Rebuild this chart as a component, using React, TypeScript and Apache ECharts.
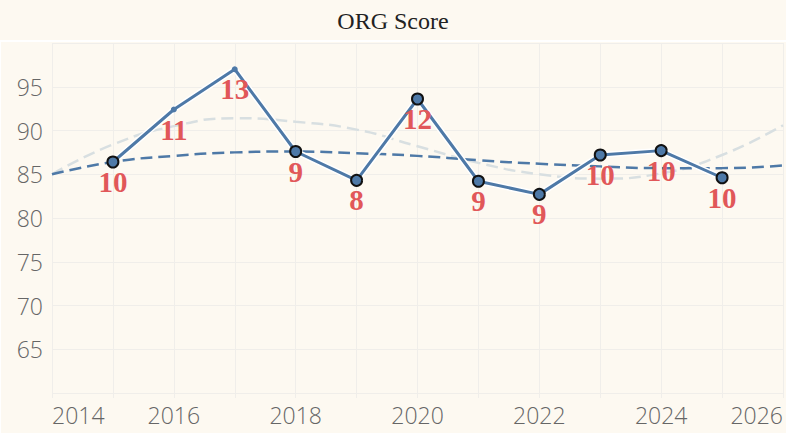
import React, { useEffect, useRef } from "react";
import * as echarts from "echarts";

const years = [2015, 2016, 2017, 2018, 2019, 2020, 2021, 2022, 2023, 2024, 2025];
const scores = [86.4, 92.4, 97.0, 87.6, 84.3, 93.6, 84.2, 82.7, 87.2, 87.7, 84.6];
const counts = [10, 11, 13, 9, 8, 12, 9, 9, 10, 10, 10];
const smallDotYears = [2016, 2017];

const trendYears = [2014, 2015, 2016, 2017, 2018, 2019, 2020, 2021, 2022, 2023, 2024, 2025, 2026];
const trendLinear = [85.0, 86.4, 87.1, 87.5, 87.6, 87.4, 87.1, 86.6, 86.2, 85.9, 85.7, 85.7, 86.0];
const trendCurve = [85.0, 88.4, 90.5, 91.4, 91.0, 90.1, 88.2, 86.3, 85.0, 84.5, 85.1, 87.2, 90.6];

const yTicks = [65, 70, 75, 80, 85, 90, 95];
const xLabelYears = [2014, 2016, 2018, 2020, 2022, 2024, 2026];

const BG = "#fdf9f1";
const GRID = "#f0eeea";
const BLUE = "#4e79a7";
const RED = "#e15759";

export default function App() {
  const ref = useRef<HTMLDivElement>(null);
  useEffect(() => {
    document.body.style.margin = "0";
    const chart = echarts.init(ref.current!, null, { renderer: "svg" });
    const pts = years.map((y, i) => {
      const small = smallDotYears.includes(y);
      return {
        value: [y, scores[i]],
        count: counts[i],
        symbolSize: small ? 6 : 11,
        itemStyle: small
          ? { color: BLUE, borderWidth: 0 }
          : { color: BLUE, borderColor: "#111", borderWidth: 2 },
      };
    });
    chart.setOption({
      animation: false,
      backgroundColor: BG,
      graphic: [
        { type: "rect", shape: { x: 0, y: 40, width: 786, height: 2 }, style: { fill: "#ffffff" }, silent: true },
        { type: "rect", shape: { x: 0, y: 40, width: 1, height: 393 }, style: { fill: "#ffffff" }, silent: true },
      ],
      title: {
        text: "ORG Score",
        left: "center",
        top: 4,
        textStyle: { fontFamily: "Liberation Serif, serif", fontWeight: "normal", fontSize: 24, color: "#222" },
      },
      grid: { left: 52, right: 2, top: 43, bottom: 40 },
      xAxis: {
        type: "value",
        min: 2014,
        max: 2026,
        interval: 1,
        axisLine: { show: false },
        axisTick: { show: true, length: 5, lineStyle: { color: GRID, width: 1 } },
        splitLine: { show: true, lineStyle: { color: GRID, width: 1 } },
        axisLabel: {
          margin: 10,
          fontFamily: "Open Sans, sans-serif",
          fontWeight: 300,
          fontSize: 23,
          color: "#666",
          alignMinLabel: "left",
          alignMaxLabel: "right",
          formatter: (v: number) => (xLabelYears.includes(v) ? String(v) : ""),
        },
      },
      yAxis: {
        type: "value",
        min: 60,
        max: 100,
        interval: 5,
        axisLine: { show: false },
        axisTick: { show: false },
        splitLine: { show: true, lineStyle: { color: GRID, width: 1 } },
        axisLabel: {
          margin: 9,
          fontFamily: "Open Sans, sans-serif",
          fontWeight: 300,
          fontSize: 23,
          color: "#666",
          formatter: (v: number) => (yTicks.includes(v) ? String(v) : ""),
        },
      },
      series: [
        {
          type: "line",
          data: trendYears.map((y, i) => [y, trendCurve[i]]),
          smooth: 0.5,
          showSymbol: false,
          lineStyle: { color: "#d8dfe1", width: 2.5, type: [12, 6] },
          z: 1,
        },
        {
          type: "line",
          data: trendYears.map((y, i) => [y, trendLinear[i]]),
          smooth: 0.5,
          showSymbol: false,
          lineStyle: { color: BLUE, width: 2.5, type: [12, 6] },
          z: 2,
        },
        {
          type: "line",
          data: years.map((y, i) => [y, scores[i]]),
          showSymbol: false,
          lineStyle: { color: "#ffffff", width: 6 },
          z: 3,
        },
        {
          type: "line",
          data: pts,
          symbol: "circle",
          lineStyle: { color: BLUE, width: 3 },
          label: {
            show: true,
            position: "inside",
            offset: [0, 20],
            formatter: (p: any) => String(p.data.count),
            fontFamily: "Liberation Serif, serif",
            fontWeight: "bold",
            fontSize: 29,
            color: RED,
          },
          z: 4,
        },
      ],
    });
    return () => chart.dispose();
  }, []);
  return <div ref={ref} style={{ width: 786, height: 433, position: "fixed", left: 0, top: 0 }} />;
}
